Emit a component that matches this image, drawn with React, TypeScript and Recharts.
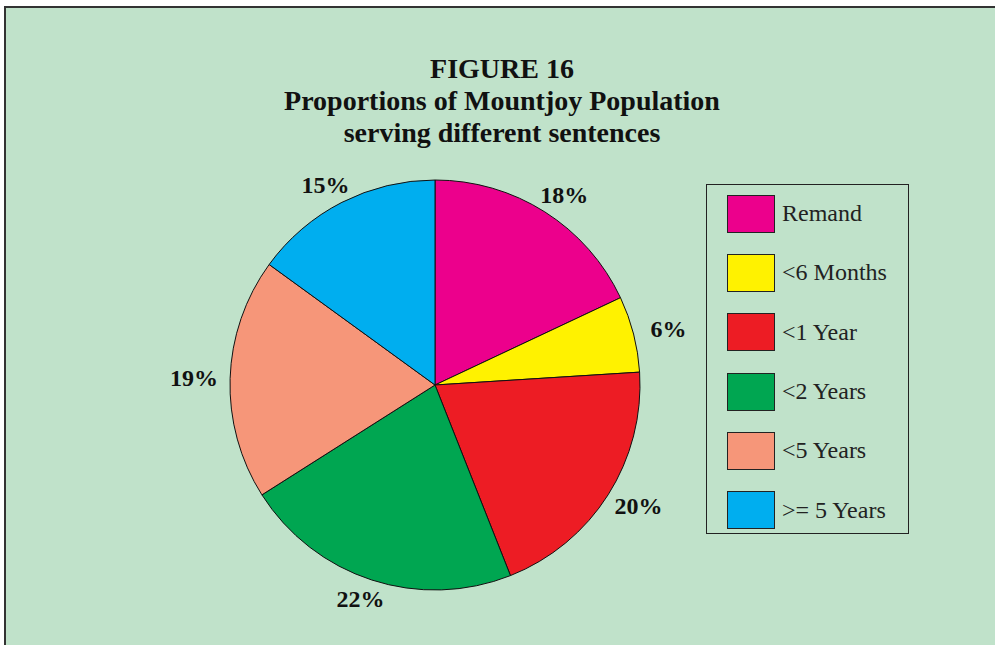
import { PieChart, Pie, Cell, Legend } from "recharts";

const categories = ["Remand", "<6 Months", "<1 Year", "<2 Years", "<5 Years", ">= 5 Years"];
const shares = [18, 6, 20, 22, 19, 15];
const colors = ["#ec008c", "#fff200", "#ed1c24", "#00a651", "#f69679", "#00aeef"];
const titleLines = ["FIGURE 16", "Proportions of Mountjoy Population", "serving different sentences"];

const data = categories.map((name, i) => ({ name, value: shares[i] }));

const RAD = Math.PI / 180;
const SERIF = "'Liberation Serif', 'DejaVu Serif', serif";

function renderLabel(props: any) {
  const { cx, cy, midAngle, outerRadius, value } = props;
  // labels sit on a slightly wider-than-tall ring around the pie
  const x = cx + (outerRadius + 36) * Math.cos(-midAngle * RAD);
  const y = cy + (outerRadius + 20) * Math.sin(-midAngle * RAD);
  return (
    <text
      x={x}
      y={y}
      textAnchor="middle"
      dominantBaseline="central"
      fill="#111"
      fontFamily={SERIF}
      fontWeight="bold"
      fontSize={24}
    >
      {value}%
    </text>
  );
}

function LegendBox() {
  return (
    <div
      style={{
        width: 203,
        height: 350,
        border: "1px solid #222",
        boxSizing: "border-box",
        paddingTop: 8,
        fontFamily: SERIF,
      }}
    >
      {data.map((d, i) => (
        <div key={d.name} style={{ display: "flex", alignItems: "center", height: 59.3, marginLeft: 20 }}>
          <div
            style={{
              width: 48,
              height: 38,
              background: colors[i],
              border: "1px solid #222",
              boxSizing: "border-box",
              marginTop: -18,
            }}
          />
          <span style={{ marginLeft: 7, marginTop: -18, fontSize: 24, color: "#222" }}>{d.name}</span>
        </div>
      ))}
    </div>
  );
}

export default function App() {
  return (
    <div style={{ position: "fixed", left: 0, top: 0, width: 995, height: 645, background: "#fff", overflow: "hidden" }}>
      <div
        style={{
          position: "absolute",
          left: 4,
          top: 6,
          width: 1000,
          height: 700,
          borderLeft: "2px solid #333",
          borderTop: "2px solid #333",
          background: "#c0e2ca",
        }}
      />
      <div style={{ position: "absolute", left: 0, top: 0, width: 995, height: 645 }}>
        <PieChart width={995} height={645} margin={{ top: 0, right: 0, bottom: 0, left: 0 }}>
          <Pie
            data={data}
            dataKey="value"
            nameKey="name"
            cx={435}
            cy={385}
            outerRadius={205}
            startAngle={90}
            endAngle={-270}
            stroke="#111"
            strokeWidth={1}
            label={renderLabel}
            labelLine={false}
            isAnimationActive={false}
          >
            {data.map((d, i) => (
              <Cell key={d.name} fill={colors[i]} />
            ))}
          </Pie>
          <Legend
            content={() => <LegendBox />}
            wrapperStyle={{ position: "absolute", left: 706, top: 184, width: 203 }}
          />
        </PieChart>
      </div>
      <div
        style={{
          position: "absolute",
          left: 0,
          top: 53,
          width: 1004,
          textAlign: "center",
          fontFamily: SERIF,
          fontWeight: "bold",
          fontSize: 28,
          lineHeight: "32px",
          color: "#111",
        }}
      >
        {titleLines.map((t) => (
          <div key={t}>{t}</div>
        ))}
      </div>
    </div>
  );
}
